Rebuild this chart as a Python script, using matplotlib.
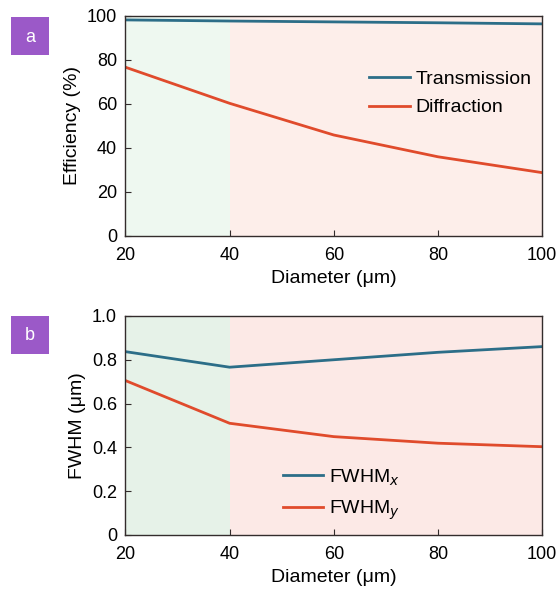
import matplotlib
matplotlib.use("Agg")
import matplotlib.pyplot as plt
from matplotlib.patches import Rectangle

plt.rcParams['font.family'] = ['Liberation Sans', 'DejaVu Sans']

diameter = [20, 40, 60, 80, 100]
transmission = [98.2, 97.7, 97.3, 96.9, 96.4]
diffraction = [76.7, 60.3, 45.9, 36.0, 28.8]
fwhm_x = [0.837, 0.766, 0.800, 0.834, 0.860]
fwhm_y = [0.705, 0.510, 0.449, 0.419, 0.403]

blue = '#2c6e88'
red = '#e04b2c'
tfs = 13
lfs = 14

fig = plt.figure(figsize=(5.6, 5.91), dpi=100)
axa = fig.add_axes([0.224, 0.6007, 0.744, 0.3723])
axb = fig.add_axes([0.224, 0.0948, 0.744, 0.3706])

def style(ax, green, pink):
    ax.axvspan(20, 40, color=green, lw=0, zorder=0)
    ax.axvspan(40, 100, color=pink, lw=0, zorder=0)
    ax.set_xlim(20, 100)
    ax.set_xticks([20, 40, 60, 80, 100])
    ax.tick_params(axis='x', direction='in', length=4, labelsize=tfs, pad=8, color='#332c2c')
    ax.tick_params(axis='y', direction='in', length=4, labelsize=tfs, pad=6, color='#332c2c')
    for s in ax.spines.values():
        s.set_color('#332c2c')
        s.set_linewidth(1.0)
    ax.set_xlabel('Diameter (μm)', fontsize=lfs, labelpad=4)

style(axa, '#eef8f0', '#fdeeea')
axa.plot(diameter, transmission, color=blue, lw=2, label='Transmission')
axa.plot(diameter, diffraction, color=red, lw=2, label='Diffraction')
axa.set_ylim(0, 100)
axa.set_yticks([0, 20, 40, 60, 80, 100])
axa.set_ylabel('Efficiency (%)', fontsize=lfs, labelpad=4)
axa.legend(loc='center left', bbox_to_anchor=(0.584, 0.648), frameon=False, fontsize=lfs,
           handlelength=2.1, handletextpad=0.3, labelspacing=0.55,
           borderpad=0, borderaxespad=0)

style(axb, '#e6f2e8', '#fce9e6')
axb.plot(diameter, fwhm_x, color=blue, lw=2, label='FWHM$_x$')
axb.plot(diameter, fwhm_y, color=red, lw=2, label='FWHM$_y$')
axb.set_ylim(0, 1.0)
axb.set_yticks([0, 0.2, 0.4, 0.6, 0.8, 1.0])
axb.set_yticklabels(['0', '0.2', '0.4', '0.6', '0.8', '1.0'])
axb.set_ylabel('FWHM (μm)', fontsize=lfs, labelpad=4)
axb.legend(loc='center left', bbox_to_anchor=(0.377, 0.185), frameon=False, fontsize=lfs,
           handlelength=2.1, handletextpad=0.3, labelspacing=0.55,
           borderpad=0, borderaxespad=0)

W, H = 560, 591
for label, ytop in [('a', 17), ('b', 316)]:
    x0, w, h = 11, 38, 38
    fig.patches.append(Rectangle((x0 / W, 1 - (ytop + h) / H), w / W, h / H,
                                 transform=fig.transFigure, fc='#9b59c8', ec='none'))
    fig.text((x0 + w / 2) / W, 1 - (ytop + h / 2 + 1) / H, label, color='white',
             fontsize=tfs, ha='center', va='center')

fig.savefig('out.png', dpi=100)
